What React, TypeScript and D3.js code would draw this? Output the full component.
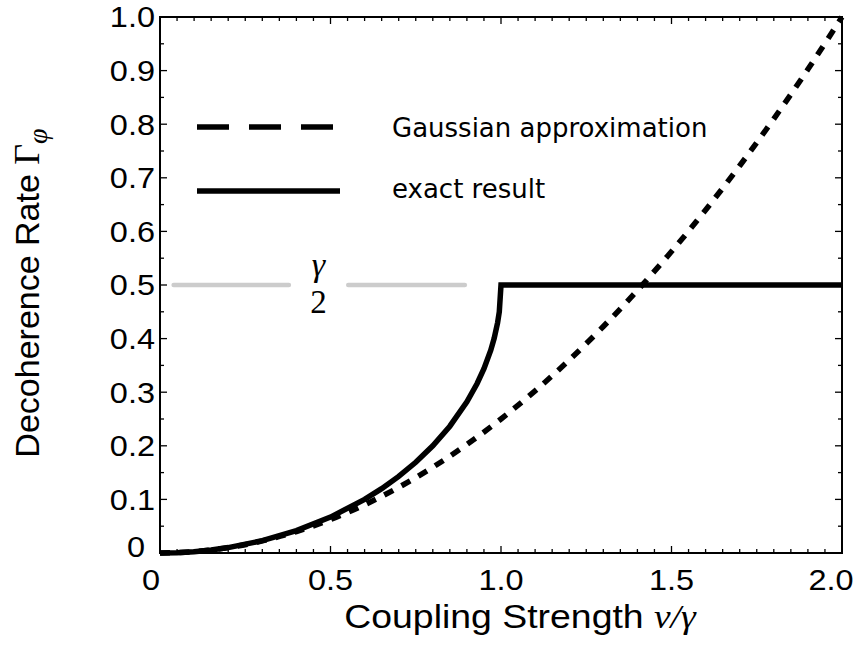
import React from 'react';
import * as d3 from 'd3';

const xTicks = [0, 0.5, 1.0, 1.5, 2.0];
const xTickLabels = ['0', '0.5', '1.0', '1.5', '2.0'];
const yTicks = [0, 0.1, 0.2, 0.3, 0.4, 0.5, 0.6, 0.7, 0.8, 0.9, 1.0];
const yTickLabels = ['0', '0.1', '0.2', '0.3', '0.4', '0.5', '0.6', '0.7', '0.8', '0.9', '1.0'];

const exactX = [0, 0.05, 0.1, 0.15, 0.2, 0.3, 0.4, 0.5, 0.6, 0.65, 0.7, 0.75, 0.8, 0.85, 0.9, 0.93, 0.95, 0.97, 0.98, 0.99, 0.995, 1.0, 2.0];
const exactY = [0, 0.0006, 0.0025, 0.0057, 0.0101, 0.023, 0.0417, 0.067, 0.1, 0.12, 0.1429, 0.1693, 0.2, 0.2366, 0.2821, 0.3162, 0.3439, 0.3784, 0.4005, 0.4295, 0.45, 0.5, 0.5];

const gaussX = [0, 0.1, 0.2, 0.3, 0.4, 0.5, 0.6, 0.7, 0.8, 0.9, 1.0, 1.1, 1.2, 1.3, 1.4, 1.5, 1.6, 1.7, 1.8, 1.9, 2.0];
const gaussY = [0, 0.0025, 0.01, 0.0225, 0.04, 0.0625, 0.09, 0.1225, 0.16, 0.2025, 0.25, 0.3025, 0.36, 0.4225, 0.49, 0.5625, 0.64, 0.7225, 0.81, 0.9025, 1.0];

const legendLabels = ['Gaussian approximation', 'exact result'];
const refLevel = 0.5;
const refSegments = [[0.04, 0.378], [0.552, 0.894]];

const W = 857, H = 661;
const M = { left: 160, right: 842, top: 17, bottom: 553 };

const sans = '"Liberation Sans", Arial, Helvetica, sans-serif';
const serif = '"Liberation Serif", "DejaVu Serif", serif';
const legendFont = '"DejaVu Sans", sans-serif';

export default function App() {
  const x = d3.scaleLinear().domain([0, 2]).range([M.left, M.right]);
  const y = d3.scaleLinear().domain([0, 1]).range([M.bottom, M.top]);

  const line = d3.line<[number, number]>().x(d => x(d[0])).y(d => y(d[1])).curve(d3.curveLinear);
  const gaussLine = d3.line<[number, number]>().x(d => x(d[0])).y(d => y(d[1])).curve(d3.curveMonotoneX);

  const exactPts = exactX.map((v, i) => [v, exactY[i]] as [number, number]);
  const gaussPts = gaussX.map((v, i) => [v, gaussY[i]] as [number, number]);

  const xMinor = d3.range(0, 2.0001, 0.05);
  const yMinor = d3.range(0, 1.0001, 0.05);
  const isMajorX = (v: number) => Math.abs(v * 2 - Math.round(v * 2)) < 1e-6;
  const isMajorY = (v: number) => Math.abs(v * 10 - Math.round(v * 10)) < 1e-6;

  const xLabelShift = (i: number) => (i === 0 ? -9 : i === xTicks.length - 1 ? -11 : 0);
  const tsx = 1.12;

  return (
    <svg width={W} height={H} style={{ position: 'absolute', left: 0, top: 0, background: '#fff' }}>
      <rect x={0} y={0} width={W} height={H} fill="#fff" />

      {/* reference level gamma/2 */}
      {refSegments.map((s, i) => (
        <line key={i} x1={x(s[0])} x2={x(s[1])} y1={y(refLevel)} y2={y(refLevel)}
          stroke="#cccccc" strokeWidth={4.5} strokeLinecap="round" />
      ))}
      <text x={x(0.465)} y={y(refLevel) - 9} textAnchor="middle" fontFamily={serif} fontStyle="italic" fontSize={34}>γ</text>
      <text x={x(0.465)} y={y(refLevel) + 28} textAnchor="middle" fontFamily={serif} fontSize={33}>2</text>

      {/* curves */}
      <path d={gaussLine(gaussPts) || ''} fill="none" stroke="#000" strokeWidth={5.5} strokeDasharray="10,9.5" />
      <path d={line(exactPts) || ''} fill="none" stroke="#000" strokeWidth={5.5} strokeLinejoin="miter" />

      {/* frame */}
      <rect x={M.left} y={M.top} width={M.right - M.left} height={M.bottom - M.top} fill="none" stroke="#000" strokeWidth={2} />

      {/* ticks */}
      {xMinor.map((v, i) => {
        const L = isMajorX(v) ? 7 : 4;
        return (
          <g key={'xt' + i}>
            <line x1={x(v)} x2={x(v)} y1={M.bottom} y2={M.bottom - L} stroke="#000" strokeWidth={1.3} />
            <line x1={x(v)} x2={x(v)} y1={M.top} y2={M.top + L} stroke="#000" strokeWidth={1.3} />
          </g>
        );
      })}
      {yMinor.map((v, i) => {
        const L = isMajorY(v) ? 7 : 4;
        return (
          <g key={'yt' + i}>
            <line x1={M.left} x2={M.left + L} y1={y(v)} y2={y(v)} stroke="#000" strokeWidth={1.3} />
            <line x1={M.right} x2={M.right - L} y1={y(v)} y2={y(v)} stroke="#000" strokeWidth={1.3} />
          </g>
        );
      })}

      {/* tick labels */}
      {xTicks.map((v, i) => (
        <text key={'xl' + i} transform={`translate(${x(v) + xLabelShift(i)},590) scale(${tsx},1)`}
          textAnchor="middle" fontFamily={sans} fontSize={29}>{xTickLabels[i]}</text>
      ))}
      {yTicks.map((v, i) => (
        <text key={'yl' + i} transform={`translate(${i === 0 ? 145 : 155},${y(v) + (i === 0 ? -6 : 0)}) scale(${tsx},1)`}
          dy="0.36em" textAnchor="end" fontFamily={sans} fontSize={29}>{yTickLabels[i]}</text>
      ))}

      {/* axis titles */}
      <text transform="translate(520,628) scale(1.1,1)" textAnchor="middle" fontFamily={sans} fontSize={34}>
        Coupling Strength <tspan fontFamily={serif} fontStyle="italic">ν/γ</tspan>
      </text>
      <text transform="translate(39,293) rotate(-90)" textAnchor="middle" fontFamily={sans} fontSize={34}>
        Decoherence Rate <tspan fontFamily={serif} fontSize={36}>Γ</tspan>
        <tspan fontFamily={serif} fontStyle="italic" fontSize={28} dy={8}>φ</tspan>
      </text>

      {/* legend */}
      <line x1={197} x2={333} y1={127} y2={127} stroke="#000" strokeWidth={5.5} strokeDasharray="32,20" />
      <text x={392} y={137} fontFamily={legendFont} fontSize={26}>{legendLabels[0]}</text>
      <line x1={197} x2={340} y1={191} y2={191} stroke="#000" strokeWidth={5.5} />
      <text x={392} y={198} fontFamily={legendFont} fontSize={26}>{legendLabels[1]}</text>
    </svg>
  );
}
